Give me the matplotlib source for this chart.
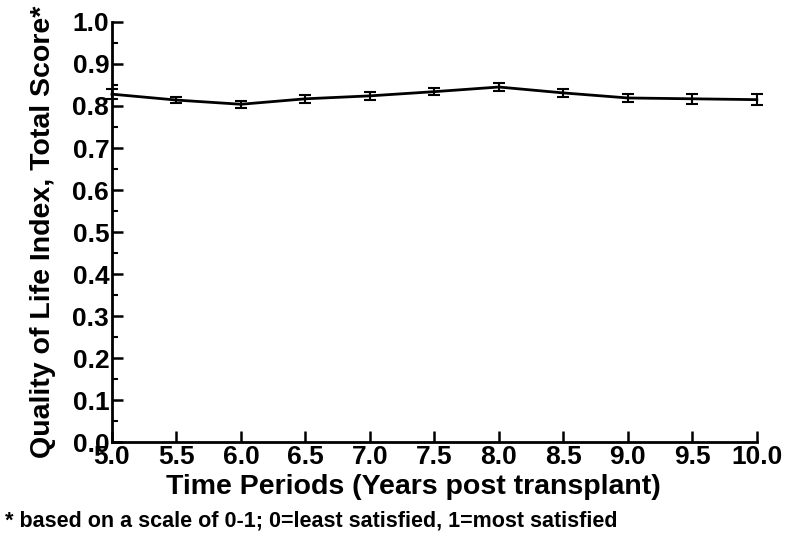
import matplotlib
matplotlib.use('Agg')
import matplotlib.pyplot as plt
from matplotlib.ticker import MultipleLocator

plt.rcParams['font.family'] = ['Liberation Sans', 'DejaVu Sans']
plt.rcParams['font.weight'] = 'bold'

# data
years = [5.0, 5.5, 6.0, 6.5, 7.0, 7.5, 8.0, 8.5, 9.0, 9.5, 10.0]
qol = [0.828, 0.814, 0.804, 0.817, 0.824, 0.834, 0.845, 0.831, 0.819, 0.817, 0.815]
err = [0.012, 0.008, 0.008, 0.009, 0.009, 0.009, 0.009, 0.010, 0.010, 0.012, 0.013]

fig = plt.figure(figsize=(8, 5.6), dpi=100)
ax = fig.add_axes([0.14, 0.21, 0.806, 0.751])

ax.errorbar(years, qol, yerr=err, color='black', lw=2, elinewidth=1.5,
            capsize=4, capthick=1.5, clip_on=False)

ax.set_xlim(5.0, 10.0)
ax.set_ylim(0.0, 1.0)
ax.xaxis.set_major_locator(MultipleLocator(0.5))
ax.yaxis.set_major_locator(MultipleLocator(0.1))
ax.yaxis.set_minor_locator(MultipleLocator(0.05))
ax.xaxis.set_major_formatter(plt.FormatStrFormatter('%.1f'))
ax.yaxis.set_major_formatter(plt.FormatStrFormatter('%.1f'))

for s in ['top', 'right']:
    ax.spines[s].set_visible(False)
for s in ['left', 'bottom']:
    ax.spines[s].set_linewidth(2)

ax.tick_params(axis='both', which='major', direction='in', length=8, width=1.8,
               labelsize=19, pad=2)
ax.tick_params(axis='y', which='minor', direction='in', length=4, width=1.5)
for lab in ax.get_xticklabels() + ax.get_yticklabels():
    lab.set_fontweight('bold')

ax.set_xlabel('Time Periods (Years post transplant)', fontsize=20.5, fontweight='bold')
ax.xaxis.set_label_coords(0.468, -0.075)
ax.set_ylabel('Quality of Life Index, Total Score*', fontsize=20.5, fontweight='bold', labelpad=12)

fig.text(0.006, 0.07, '* based on a scale of 0-1; 0=least satisfied, 1=most satisfied',
         fontsize=15.5, fontweight='bold', va='center')

fig.savefig('out.png', dpi=100)
